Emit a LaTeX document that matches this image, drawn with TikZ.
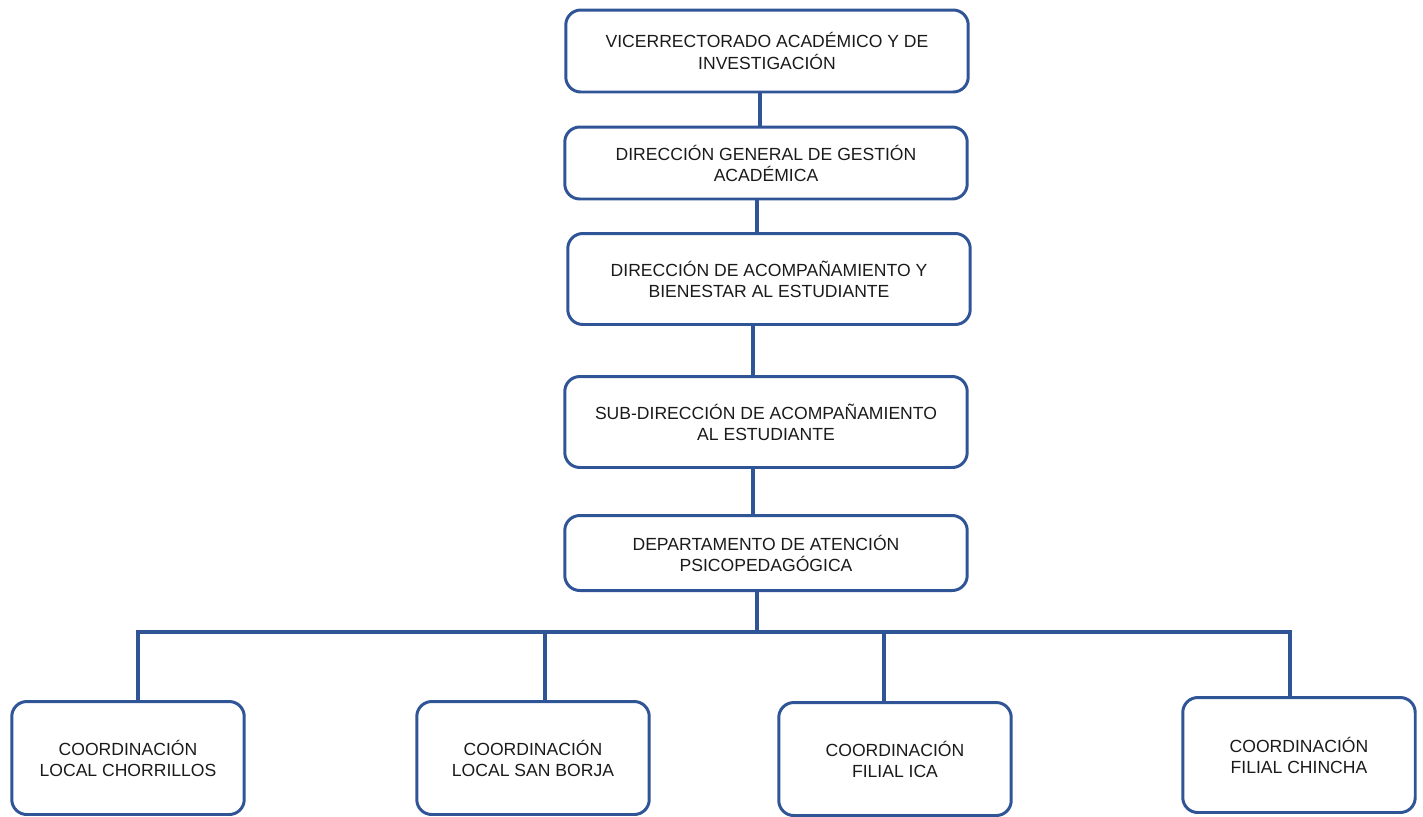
\documentclass[tikz,border=0pt]{standalone}
\usepackage{fontspec}
\setmainfont{Liberation Sans}
\usepackage{xcolor}
\usetikzlibrary{positioning}
\definecolor{orgblue}{HTML}{2F5597}
\definecolor{orgtext}{HTML}{1A1A1A}

\begin{document}
\begin{tikzpicture}[x=0.02cm, y=-0.02cm,
    unidad/.style={draw=orgblue, line width=1.7pt, rounded corners=0.3cm,
        text=orgtext, font=\fontsize{10}{12}\selectfont, align=center,
        inner sep=0pt},
    jefe/.style={unidad, minimum width=8.05cm, minimum height=1.6cm},
    coord/.style={unidad, minimum width=4.65cm, minimum height=2.26cm},
    enlace/.style={draw=orgblue, line width=2pt}]
    \useasboundingbox (0,0) rectangle (1423,816);

    % Cadena jerarquica
    \node[jefe, minimum height=1.64cm] (vra) at (767,51) {VICERRECTORADO ACADÉMICO Y DE\\INVESTIGACIÓN};
    \node[jefe, minimum height=1.44cm] (dgga) at (766,163) {DIRECCIÓN GENERAL DE GESTIÓN\\ACADÉMICA};
    \node[jefe, minimum height=1.82cm] (dabe) at (769,279) {DIRECCIÓN DE ACOMPAÑAMIENTO Y\\BIENESTAR AL ESTUDIANTE};
    \node[jefe, minimum height=1.82cm] (sdae) at (766,422) {SUB-DIRECCIÓN DE ACOMPAÑAMIENTO\\AL ESTUDIANTE};
    \node[jefe, minimum height=1.5cm] (dap) at (766,553) {DEPARTAMENTO DE ATENCIÓN\\PSICOPEDAGÓGICA};

    % Coordinaciones
    \node[coord] (chorrillos) at (128,758) {COORDINACIÓN\\LOCAL CHORRILLOS};
    \node[coord] (sanborja) at (533,758) {COORDINACIÓN\\LOCAL SAN BORJA};
    \node[coord] (ica) at (895,759) {COORDINACIÓN\\FILIAL ICA};
    \node[coord, minimum height=2.3cm] (chincha) at (1299,755) {COORDINACIÓN\\FILIAL CHINCHA};

    % Enlaces verticales
    \coordinate (e1) at (760,0);
    \coordinate (e2) at (757,0);
    \coordinate (e3) at (753,0);
    \draw[enlace] (e1 |- vra.south) -- (e1 |- dgga.north);
    \draw[enlace] (e2 |- dgga.south) -- (e2 |- dabe.north);
    \draw[enlace] (e3 |- dabe.south) -- (e3 |- sdae.north);
    \draw[enlace] (e3 |- sdae.south) -- (e3 |- dap.north);

    % Barra de distribucion
    \coordinate (barra) at (757,632);
    \coordinate (d1) at (138,632);
    \coordinate (d2) at (545,632);
    \coordinate (d3) at (884,632);
    \coordinate (d4) at (1290,632);
    \draw[enlace] (barra |- dap.south) -- (barra);
    \draw[enlace] (d1 |- chorrillos.north) -- (d1) -- (d4) -- (d4 |- chincha.north);
    \draw[enlace] (d2) -- (d2 |- sanborja.north);
    \draw[enlace] (d3) -- (d3 |- ica.north);
\end{tikzpicture}
\end{document}
